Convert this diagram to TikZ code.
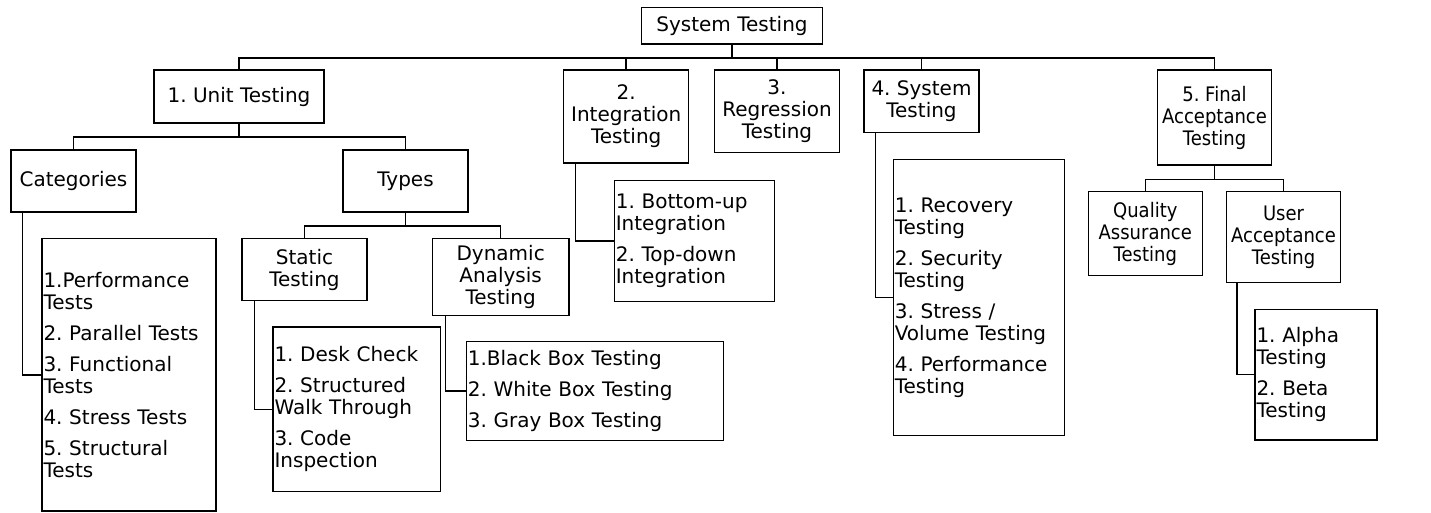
\documentclass[tikz,border=0pt]{standalone}
\usepackage{fontspec}
\setmainfont{DejaVu Sans}
\frenchspacing
\begin{document}
\begin{tikzpicture}[x=1pt,y=-1pt,line width=1.5pt,
  txt/.style={font=\fontsize{20}{22}\selectfont},
  narrowtxt/.style={font=\fontsize{20}{22}\selectfont\addfontfeatures{FakeStretch=0.9}},
  box/.style={draw,txt,inner sep=0pt,align=center},
  list/.style={draw,txt,inner xsep=1.5pt,inner ysep=0pt,align=left}]
\useasboundingbox (0,0) rectangle (1431,512);

% top level
\node[box,minimum width=180.6pt,minimum height=36.7pt] (sys) at (732,25.65) {System Testing};

% main phases
\node[box,minimum width=170pt,minimum height=53pt]   (unit)    at (239,96.5)     {1. Unit Testing};
\node[box,minimum width=125pt,minimum height=93pt]   (integ)   at (626.2,116.5)  {2.\\Integration\\Testing};
\node[box,minimum width=124.6pt,minimum height=82.3pt] (regr)  at (777,111.15)   {3.\\Regression\\Testing};
\node[box,minimum width=115pt,minimum height=62.7pt] (systest) at (921.5,101.35) {4. System\\Testing};
\node[box,narrowtxt,minimum width=114.4pt,minimum height=95pt] (final) at (1214.5,117.5) {5. Final\\Acceptance\\Testing};

% unit testing branch
\node[box,minimum width=125pt,minimum height=62pt]   (cat)    at (73.5,181)    {Categories};
\node[box,minimum width=125pt,minimum height=62pt]   (types)  at (405.5,181)   {Types};
\node[box,minimum width=125pt,minimum height=62pt]   (static) at (304.5,269.7) {Static\\Testing};
\node[box,minimum width=136.7pt,minimum height=76.6pt] (dyn)  at (500.65,277)  {Dynamic\\Analysis\\Testing};

% acceptance branch
\node[box,narrowtxt,minimum width=114pt,minimum height=84pt]   (qa) at (1145.3,233.7) {Quality\\Assurance\\Testing};
\node[box,narrowtxt,minimum width=114.4pt,minimum height=91pt] (ua) at (1283.5,237.2) {User\\Acceptance\\Testing};

% item lists
\node[list,text width=171pt,minimum height=272.3pt] (catlist) at (129,374.85)
  {1.Performance\\Tests\\[9pt]2. Parallel Tests\\[9pt]3. Functional\\Tests\\[9pt]4. Stress Tests\\[9pt]5. Structural\\Tests};
\node[list,text width=164.7pt,minimum height=164.7pt] (statlist) at (356.85,409.35)
  {1. Desk Check\\[9pt]2. Structured\\Walk Through\\[9pt]3. Code\\Inspection};
\node[list,text width=254.4pt,minimum height=99pt] (dynlist) at (595,391.2)
  {1.Black Box Testing\\[9pt]2. White Box Testing\\[9pt]3. Gray Box Testing};
\node[list,text width=157.4pt,minimum height=121pt] (intlist) at (694.5,240.8)
  {1. Bottom-up\\Integration\\[9pt]2. Top-down\\Integration};
\node[list,text width=168pt,minimum height=276.4pt] (syslist) at (978.8,297.5)
  {1. Recovery\\Testing\\[9pt]2. Security\\Testing\\[9pt]3. Stress /\\Volume Testing\\[9pt]4. Performance\\Testing};
\node[list,text width=119pt,minimum height=130.7pt] (ualist) at (1316,374.65)
  {1. Alpha\\Testing\\[9pt]2. Beta\\Testing};

% tree connectors
\foreach \c in {unit,integ,regr,systest,final}
  \draw (sys.south) -- ++(0,13.3) -| (\c.north);
\foreach \c in {cat,types}
  \draw (unit.south) -- ++(0,13) -| (\c.north);
\foreach \c in {static,dyn}
  \draw (types.south) -- ++(0,13) -| (\c.north);
\foreach \c in {qa,ua}
  \draw (final.south) -- ++(0,13.7) -| (\c.north);

% side connectors to the lists
\draw ([xshift=12.3pt]cat.south west)     |- (catlist.west);
\draw ([xshift=13pt]static.south west)    |- (statlist.west);
\draw ([xshift=14pt]dyn.south west)       |- (dynlist.west);
\draw ([xshift=12.6pt]integ.south west)   |- (intlist.west);
\draw ([xshift=12pt]systest.south west)   |- (syslist.west);
\draw ([xshift=11.4pt]ua.south west)      |- (ualist.west);
\end{tikzpicture}
\end{document}
